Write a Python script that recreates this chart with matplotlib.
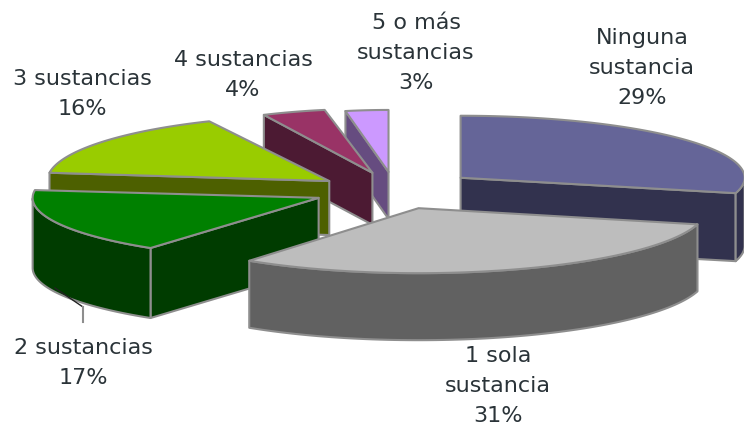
import numpy as np
import matplotlib
matplotlib.use('agg')
import matplotlib.pyplot as plt
from matplotlib.patches import Polygon

plt.rcParams['font.family'] = ['DejaVu Sans']

labels = ['Ninguna\nsustancia', '1 sola\nsustancia', '2 sustancias', '3 sustancias', '4 sustancias', '5 o más\nsustancias']
percent = [29, 31, 17, 16, 4, 3]

# look of each slice
top_colors = ['#656598', '#bdbdbd', '#008000', '#99cc00', '#993366', '#cc99ff']
side_colors = ['#32324e', '#616161', '#003c00', '#4d6000', '#4c1a33', '#664c80']
explode_x = [0.27, 0.19, 0.31, 0.31, 0.35, 0.53]
explode_y = [0.27, 0.33, 0.40, 0.18, 0.25, 0.26]
radius_x = [284, 288, 286, 282, 255, 230]
radius_y = [62, 65, 62, 66, 64, 62]
depth = [68, 67, 70, 54, 52, 47]
label_xy = [(642, 68), (498, 386), (83, 363), (82, 94), (243, 75), (416, 53)]
draw_order = [5, 4, 3, 0, 2, 1]

center_x, center_y = 400, 188
edge = '#8e8e8e'

fig = plt.figure(figsize=(7.44, 4.30), dpi=100)
ax = fig.add_axes([0, 0, 1, 1])
ax.set_xlim(0, 744)
ax.set_ylim(430, 0)
ax.axis('off')

# clockwise from 12 o'clock
ends = np.cumsum(percent) / np.sum(percent) * 2 * np.pi
starts = np.concatenate([[0], ends[:-1]])


def face(pts, color):
    ax.add_patch(Polygon(pts, closed=True, facecolor=color, edgecolor=edge, lw=1.5, joinstyle='round'))


for i in draw_order:
    a, b = starts[i], ends[i]
    rx, ry, d = radius_x[i], radius_y[i], depth[i]
    mid = (a + b) / 2
    cx = center_x + explode_x[i] * rx * np.sin(mid)
    cy = center_y - explode_y[i] * ry * np.cos(mid)
    t = np.linspace(a, b, 80)
    rim = np.column_stack([cx + rx * np.sin(t), cy - ry * np.cos(t)])
    apex = np.array([cx, cy])
    down = np.array([0, d])

    # side cut faces
    if np.sin(a) < -1e-6:
        face([apex, rim[0], rim[0] + down, apex + down], side_colors[i])
    if np.sin(b) > 1e-6:
        face([apex, rim[-1], rim[-1] + down, apex + down], side_colors[i])
    # outer wall, only the front part shows
    front = np.cos(t) < 0
    if front.any():
        part = rim[front]
        face(np.vstack([part, part[::-1] + down]), side_colors[i])
    face(np.vstack([[apex], rim]), top_colors[i])

# leader line of the 2 sustancias label
ax.plot([55, 83], [288, 307], color='#222222', lw=1, zorder=5)
ax.plot([83, 83], [307, 322], color='#8e8e8e', lw=1.5, zorder=5)

for name, p, (x, y) in zip(labels, percent, label_xy):
    ax.text(x, y, '%s\n%d%%' % (name, p), ha='center', va='center', fontsize=16,
            color='#2a3338', linespacing=1.6, zorder=6)

fig.savefig('out.png', dpi=100, facecolor='white')
